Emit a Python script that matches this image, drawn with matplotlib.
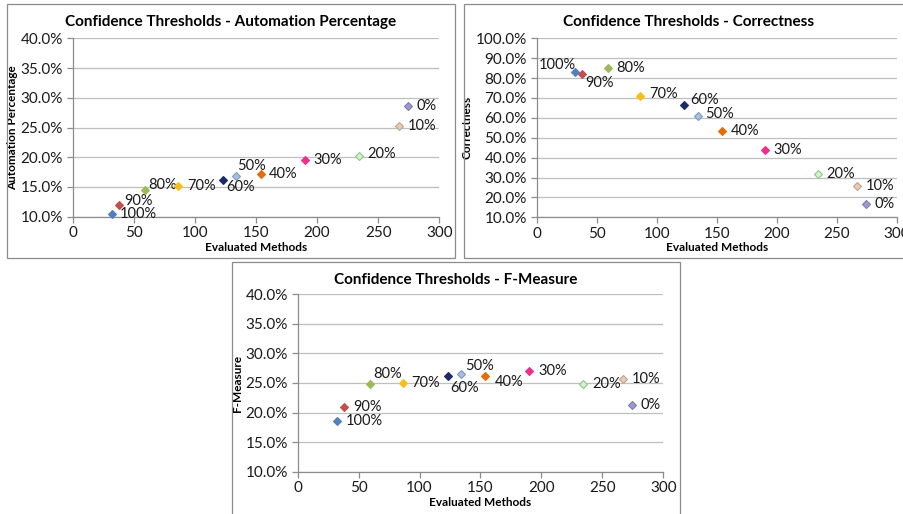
import matplotlib

matplotlib.use("Agg")
import matplotlib.pyplot as plt
from matplotlib.patches import Rectangle
from matplotlib.ticker import FuncFormatter

plt.rcParams["font.family"] = ["Lato", "DejaVu Sans"]

thresholds = ["100%", "90%", "80%", "70%", "60%", "50%", "40%", "30%", "20%", "10%", "0%"]
evaluated_methods = [32, 38, 59, 86, 123, 134, 154, 190, 234, 267, 274]
automation_pct = [10.5, 12.0, 14.5, 15.1, 16.1, 16.9, 17.1, 19.5, 20.2, 25.3, 28.6]
correctness = [83.0, 82.3, 85.0, 70.8, 66.7, 61.0, 53.5, 43.7, 32.0, 25.9, 16.8]
f_measure = [18.5, 20.9, 24.8, 25.0, 26.1, 26.5, 26.1, 27.0, 24.8, 25.6, 21.2]

face_colors = ["#4F81BD", "#C0504D", "#9BBB59", "#F9BE1A", "#1C2A66", "#A9BFDD",
               "#E46C0A", "#EE2F8C", "#D4F2C4", "#FAC99B", "#9A9CD0"]
edge_colors = ["#4F81BD", "#C0504D", "#9BBB59", "#F9BE1A", "#1C2A66", "#7E9AC2",
               "#E46C0A", "#EE2F8C", "#8FC58F", "#A9A9A9", "#7C7EB0"]

# label offsets in pixels (dx, dy, ha) per panel
offs_auto = [(8, 0, "left"), (5, 4, "left"), (3, 5, "left"), (9, 0, "left"), (3, -7, "left"),
             (1, 10, "left"), (8, 0, "left"), (9, 0, "left"), (9, 2, "left"), (9, 0, "left"),
             (9, 0, "left")]
offs_corr = [(1, 7, "right"), (3, -9, "left"), (9, 0, "left"), (9, 2, "left"), (6, 5, "left"),
             (8, 2, "left"), (9, 0, "left"), (9, 0, "left"), (9, 0, "left"), (9, 0, "left"),
             (9, 0, "left")]
offs_f = [(9, 0, "left"), (9, 0, "left"), (4, 10, "left"), (9, 0, "left"), (3, -12, "left"),
          (4, 8, "left"), (9, -6, "left"), (9, 0, "left"), (9, 0, "left"), (9, 0, "left"),
          (9, 0, "left")]

W, H = 904, 514
fig = plt.figure(figsize=(W / 100, H / 100), dpi=100)


def box(x0, y0, x1, y1):
    fig.patches.append(Rectangle((x0 / W, 1 - y1 / H), (x1 - x0) / W, (y1 - y0) / H,
                                 transform=fig.transFigure, fill=False,
                                 edgecolor="#8C8C8C", linewidth=0.9))


def panel(px, title, ylabel, values, ylim, ystep, offsets, bx):
    x0, y0, x1, y1 = px
    ax = fig.add_axes([x0 / W, 1 - y1 / H, (x1 - x0) / W, (y1 - y0) / H])
    for i in range(len(thresholds)):
        ax.plot(evaluated_methods[i], values[i], marker="D", markersize=4.0,
                markerfacecolor=face_colors[i], markeredgecolor=edge_colors[i],
                markeredgewidth=0.8, linestyle="none", zorder=3, clip_on=False)
        dx, dy, ha = offsets[i]
        ax.annotate(thresholds[i], (evaluated_methods[i], values[i]),
                    xytext=(dx * 0.72, dy * 0.72), textcoords="offset points",
                    ha=ha, va="center", fontsize=10.5, color="#1a1a1a")
    ax.set_xlim(0, 300)
    ax.set_ylim(*ylim)
    ax.set_xticks(range(0, 301, 50))
    yt = []
    v = ylim[0]
    while v <= ylim[1] + 1e-9:
        yt.append(v)
        v += ystep
    ax.set_yticks(yt)
    ax.yaxis.set_major_formatter(FuncFormatter(lambda v, p: f"{v:.1f}%"))
    ax.grid(axis="y", color="#BFBFBF", linewidth=0.9)
    ax.set_axisbelow(True)
    for s in ("top", "right"):
        ax.spines[s].set_visible(False)
    for s in ("left", "bottom"):
        ax.spines[s].set_color("#8C8C8C")
        ax.spines[s].set_linewidth(0.9)
    ax.tick_params(axis="both", direction="out", length=4, width=0.9, color="#8C8C8C",
                   labelsize=11, labelcolor="#1a1a1a", pad=3)
    ax.set_xlabel("Evaluated Methods", fontsize=8.5, fontweight="bold", labelpad=1)
    ax.set_ylabel(ylabel, fontsize=8.5, fontweight="bold", labelpad=2)
    bx0, by0, bx1, by1 = bx
    box(bx0, by0, bx1, by1)
    fig.text(((bx0 + min(bx1, 913)) / 2) / W, 1 - (by0 + 18) / H, title,
             ha="center", va="center", fontsize=11, fontweight="bold")
    return ax


panel((72.7, 38.3, 439.3, 216.7), "Confidence Thresholds - Automation Percentage",
      "Automation Percentage", automation_pct, (10, 40), 5, offs_auto,
      (6.7, 4, 455, 258.3))
panel((536.7, 38.3, 896.7, 217.3), "Confidence Thresholds - Correctness",
      "Correctness", correctness, (10, 100), 10, offs_corr,
      (464.3, 4.5, 913, 258.3))
panel((297.7, 294.3, 663.3, 471.7), "Confidence Thresholds - F-Measure",
      "F-Measure", f_measure, (10, 40), 5, offs_f,
      (231.7, 261.7, 680, 530))

fig.savefig("out.png", dpi=100)
